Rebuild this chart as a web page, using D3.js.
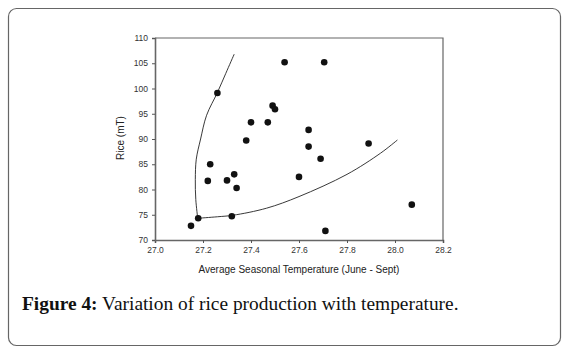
<!DOCTYPE html>
<html>
<head>
<meta charset="utf-8">
<script src="https://cdn.jsdelivr.net/npm/d3@7"></script>
<style>
  body { margin: 0; background: #fff; }
</style>
</head>
<body>
<div id="chart"></div>
<script>
// observed points: temperature (June - Sept) vs rice
temps = [27.15, 27.18, 27.22, 27.23, 27.30, 27.33, 27.34, 27.32, 27.26, 27.38, 27.40,
  27.47, 27.49, 27.50, 27.54, 27.705, 27.64, 27.64, 27.60, 27.69, 27.89, 28.07, 27.71]
rice = [72.8, 74.3, 81.7, 85.0, 81.8, 83.0, 80.3, 74.7, 99.1, 89.7, 93.3,
  93.3, 96.6, 95.9, 105.2, 105.2, 91.8, 88.5, 82.5, 86.1, 89.1, 77.0, 71.8]

// boundary curves drawn on the figure
upperX = [27.178, 27.17, 27.168, 27.172, 27.19, 27.215, 27.26, 27.295, 27.33]
upperY = [74.3, 78, 82, 86, 90, 94.7, 99.2, 103, 106.8]
lowerX = [27.178, 27.26, 27.325, 27.465, 27.6, 27.8, 27.94, 28.01]
lowerY = [74.3, 74.6, 74.9, 76.3, 78.6, 83.0, 87.2, 89.8]

xTicks = [27.0, 27.2, 27.4, 27.6, 27.8, 28.0, 28.2]
yTicks = [70, 75, 80, 85, 90, 95, 100, 105, 110]

W = 569, H = 354
margin = {top: 38, left: 155, right: 126, bottom: 114}
width = W - margin.left - margin.right
height = H - margin.top - margin.bottom

svg = d3.select("#chart").append("svg")
  .attr("width", W).attr("height", H)

// outer frame
svg.append("rect")
  .attr("x", 8.5).attr("y", 8.5)
  .attr("width", 552).attr("height", 337)
  .attr("rx", 8).attr("ry", 8)
  .attr("fill", "none").attr("stroke", "#666").attr("stroke-width", 1.2)

g = svg.append("g").attr("transform", `translate(${margin.left}, ${margin.top})`)

x = d3.scaleLinear().domain([27.0, 28.2]).range([0, width])
y = d3.scaleLinear().domain([70, 110]).range([height, 0])

// top / right border
g.append("path")
  .attr("d", `M0,0H${width}V${height}`)
  .attr("fill", "none").attr("stroke", "#666").attr("stroke-width", 1.2)

xAxis = g.append("g")
  .attr("transform", `translate(0, ${height})`)
  .call(d3.axisBottom(x).tickValues(xTicks).tickFormat(d3.format(".1f")).tickSize(3).tickPadding(4))
yAxis = g.append("g")
  .call(d3.axisLeft(y).tickValues(yTicks).tickSize(3).tickPadding(4))

for (ax of [xAxis, yAxis]) {
  ax.select(".domain").attr("stroke", "#666").attr("stroke-width", 1.6)
  ax.selectAll(".tick line").attr("stroke", "#555")
  ax.selectAll("text")
    .style("font-family", "Liberation Sans, Arial, sans-serif")
    .style("font-size", "8.5px").attr("fill", "#333")
}

line = d3.line().x(d => x(d[0])).y(d => y(d[1])).curve(d3.curveCatmullRom)
g.append("path")
  .datum(upperX.map((v, i) => [v, upperY[i]]))
  .attr("d", line).attr("fill", "none").attr("stroke", "#222").attr("stroke-width", 0.9)
g.append("path")
  .datum(lowerX.map((v, i) => [v, lowerY[i]]))
  .attr("d", line).attr("fill", "none").attr("stroke", "#222").attr("stroke-width", 0.9)

g.selectAll(".dot")
  .data(temps.map((t, i) => [t, rice[i]]))
  .join("circle")
    .attr("class", "dot")
    .attr("cx", d => x(d[0]))
    .attr("cy", d => y(d[1]))
    .attr("r", 3.3)
    .attr("fill", "#111")

// axis titles
g.append("text")
  .attr("x", width / 2).attr("y", height + 33)
  .attr("text-anchor", "middle")
  .style("font-family", "Liberation Sans, Arial, sans-serif")
  .style("font-size", "10px").attr("fill", "#222")
  .text("Average Seasonal Temperature (June - Sept)")
g.append("text")
  .attr("transform", `translate(-31, ${height / 2 - 1}) rotate(-90)`)
  .attr("text-anchor", "middle")
  .style("font-family", "Liberation Sans, Arial, sans-serif")
  .style("font-size", "10px").attr("fill", "#222")
  .text("Rice (mT)")

// caption
cap = svg.append("text")
  .attr("x", 22).attr("y", 310)
  .style("font-family", "Liberation Serif, 'Times New Roman', serif")
  .style("font-size", "19.4px").attr("fill", "#111")
cap.append("tspan").attr("font-weight", "bold").text("Figure 4:")
cap.append("tspan").text(" Variation of rice production with temperature.")
</script>
</body>
</html>
